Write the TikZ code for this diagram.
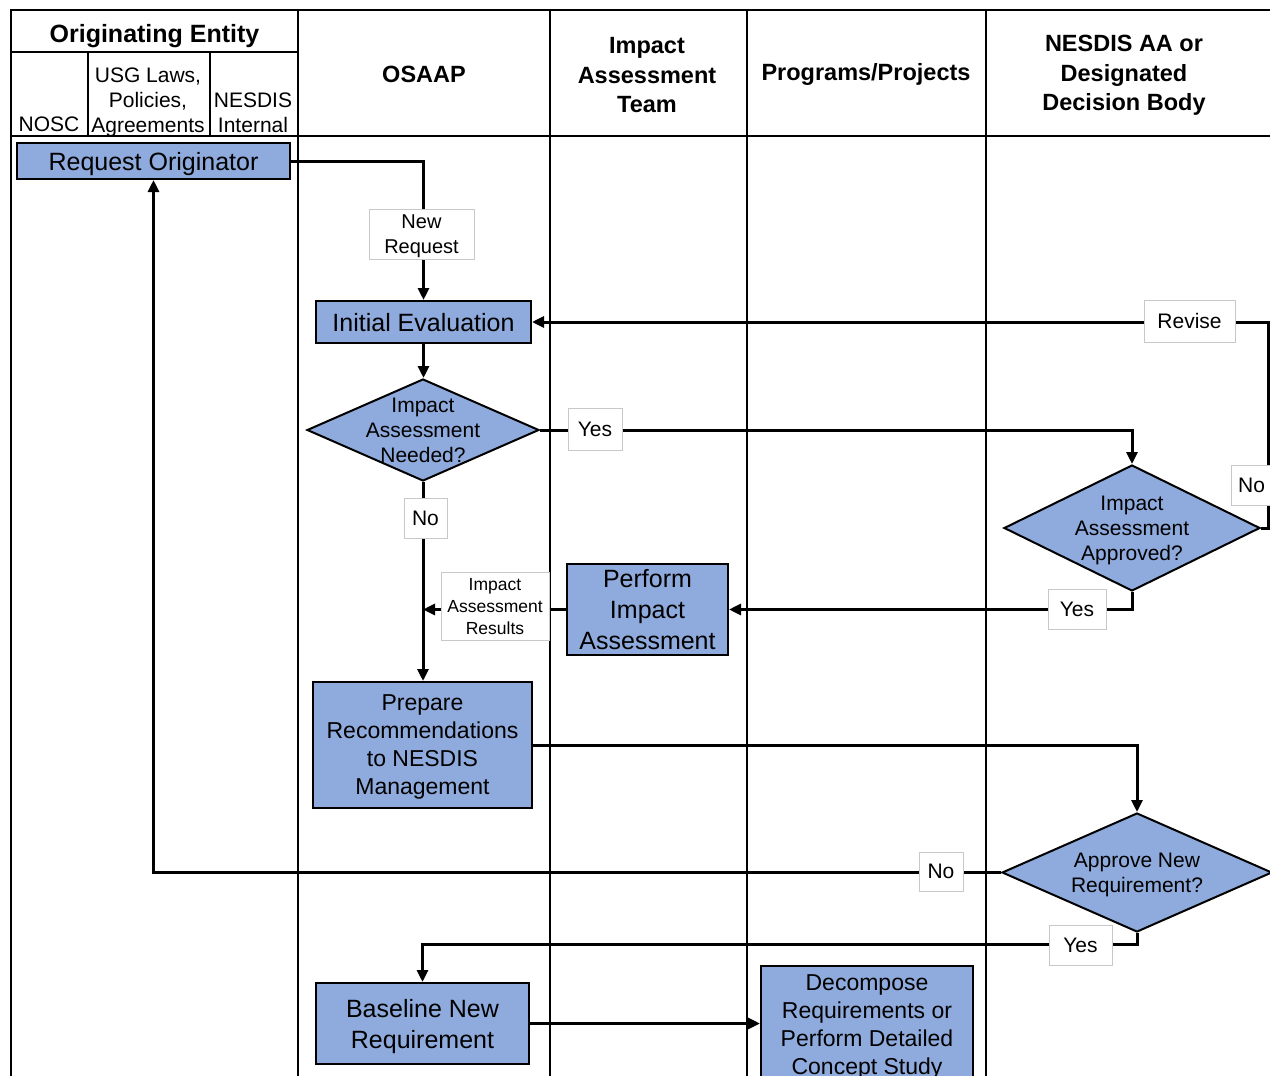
\documentclass[tikz,border=0pt]{standalone}
\usepackage{fontspec}
\setmainfont{Liberation Sans}
\usetikzlibrary{shapes.geometric,arrows.meta}
\definecolor{boxblue}{RGB}{143,170,220}
\definecolor{lblgray}{RGB}{200,200,200}
\tikzset{
 proc/.style={draw=black,line width=2pt,fill=boxblue,inner sep=0pt,align=center,text depth=0pt,font=\fontsize{25}{31}\selectfont},
 dec/.style={diamond,draw=black,line width=2pt,fill=boxblue,inner sep=0pt},
 dectext/.style={align=center,text depth=0pt,font=\fontsize{21}{25}\selectfont,inner sep=0pt},
 lbl/.style={draw=lblgray,line width=1pt,fill=white,align=center,text depth=0pt,inner sep=0pt,font=\fontsize{21}{26}\selectfont},
 conn/.style={line width=3pt,-{Triangle[length=12pt,width=11pt]}},
 lane/.style={line width=2pt},
 hdr/.style={align=center,text depth=0pt,font=\bfseries\fontsize{23.5}{29.5}\selectfont,inner sep=0pt},
 subhdr/.style={align=center,font=\fontsize{21}{25}\selectfont,inner sep=0pt},
}
\begin{document}
\begin{tikzpicture}[x=1pt,y=-1pt]
\useasboundingbox (0,0) rectangle (1270,1076);
\clip (0,0) rectangle (1270,1076);
\fill[white] (0,0) rectangle (1270,1076);
% lanes
\draw[lane] (11,1080) -- (11,10) -- (1275,10);
\draw[lane] (11,136) -- (1275,136);
\draw[lane] (11,52) -- (298,52);
\draw[lane] (88,52) -- (88,136);
\draw[lane] (210,52) -- (210,136);
\foreach \x in {298,550,747,986} \draw[lane] (\x,10) -- (\x,1080);
% headers
\node[hdr,font=\bfseries\fontsize{25}{30}\selectfont] (hOE) at (154.5,33) {Originating Entity};
\node[subhdr,anchor=base] (hNOSC) at (49,131) {NOSC};
\node[subhdr,anchor=base] (hUSG) at (148,132) {USG Laws,\\Policies,\\Agreements};
\node[subhdr,anchor=base] (hNI) at (253,132) {NESDIS\\Internal};
\node[hdr] (hOS) at (424,74) {OSAAP};
\node[hdr] (hIAT) at (647,75) {Impact\\Assessment\\Team};
\node[hdr] (hPP) at (866,72) {Programs/Projects};
\node[hdr] (hNA) at (1124,73) {NESDIS AA or\\Designated\\Decision Body};
% process nodes
\node[proc,minimum width=273pt,minimum height=36pt] (ro) at (153.5,161) {Request Originator};
\node[proc,minimum width=215pt,minimum height=42pt] (ie) at (423.5,322) {Initial Evaluation};
\node[proc,minimum width=161pt,minimum height=91pt] (pia) at (647.5,609.5) {Perform\\Impact\\Assessment};
\node[proc,minimum width=219pt,minimum height=126pt,font=\fontsize{23}{28}\selectfont] (prep) at (422.5,745) {Prepare\\Recommendations\\to NESDIS\\Management};
\node[proc,minimum width=213pt,minimum height=81pt] (bl) at (422.5,1023.5) {Baseline New\\Requirement};
\node[proc,minimum width=212pt,minimum height=118pt,font=\fontsize{23}{28}\selectfont] (dc) at (867,1025) {Decompose\\Requirements or\\Perform Detailed\\Concept Study};
% decisions
\node[dec,minimum width=232pt,minimum height=102pt,label={[dectext,name=d1t]center:Impact\\Assessment\\Needed?}] (d1) at (423,430) {};
\node[dec,minimum width=256pt,minimum height=126pt,label={[dectext,name=d2t]center:Impact\\Assessment\\Approved?}] (d2) at (1132,528) {};
\node[dec,minimum width=270pt,minimum height=119pt,label={[dectext,name=d3t]center:Approve New\\Requirement?}] (d3) at (1137,872.5) {};
% connectors
\coordinate (rv) at (1268,528);
\draw[conn] (ro.east) -| (ie.north);
\draw[conn] (ie.south) -- (ie.south |- d1.north);
\draw[conn] (d1.east) -| (d2.north);
\draw[conn] (d2.south) |- (pia.east);
\draw[conn] (d2.east) -- (rv) |- (ie.east);
\draw[conn] (d1.south) -- (d1.south |- prep.north);
\draw[conn] (pia.west) -- (pia.west -| d1.south);
\draw[conn] (prep.east) -| (d3.north);
\draw[conn] (d3.west) -| (ro.south);
\coordinate (yb) at (1137,944);
\draw[conn] (d3.south) -- (yb) -| (bl.north);
\draw[conn] (bl.east) -- (bl.east -| dc.west);
% labels
\node[lbl,minimum width=105pt,minimum height=50pt,font=\fontsize{20}{25}\selectfont] (lNR) at (421.5,234) {New\\Request};
\node[lbl,minimum width=91pt,minimum height=42pt] (lRev) at (1189.5,321) {Revise};
\node[lbl,minimum width=54pt,minimum height=42pt] (lY1) at (595,429) {Yes};
\node[lbl,minimum width=41pt,minimum height=40pt] (lN1) at (1251.5,485) {No};
\node[lbl,minimum width=43pt,minimum height=40pt] (lN2) at (425.5,518) {No};
\node[lbl,minimum width=108pt,minimum height=68pt,font=\fontsize{17.5}{22}\selectfont] (lIAR) at (495,606) {Impact\\Assessment\\Results};
\node[lbl,minimum width=58pt,minimum height=40pt] (lY2) at (1077,609) {Yes};
\node[lbl,minimum width=44pt,minimum height=39pt] (lN3) at (941,871.5) {No};
\node[lbl,minimum width=63pt,minimum height=40pt] (lY3) at (1080.5,945) {Yes};
\end{tikzpicture}
\end{document}
